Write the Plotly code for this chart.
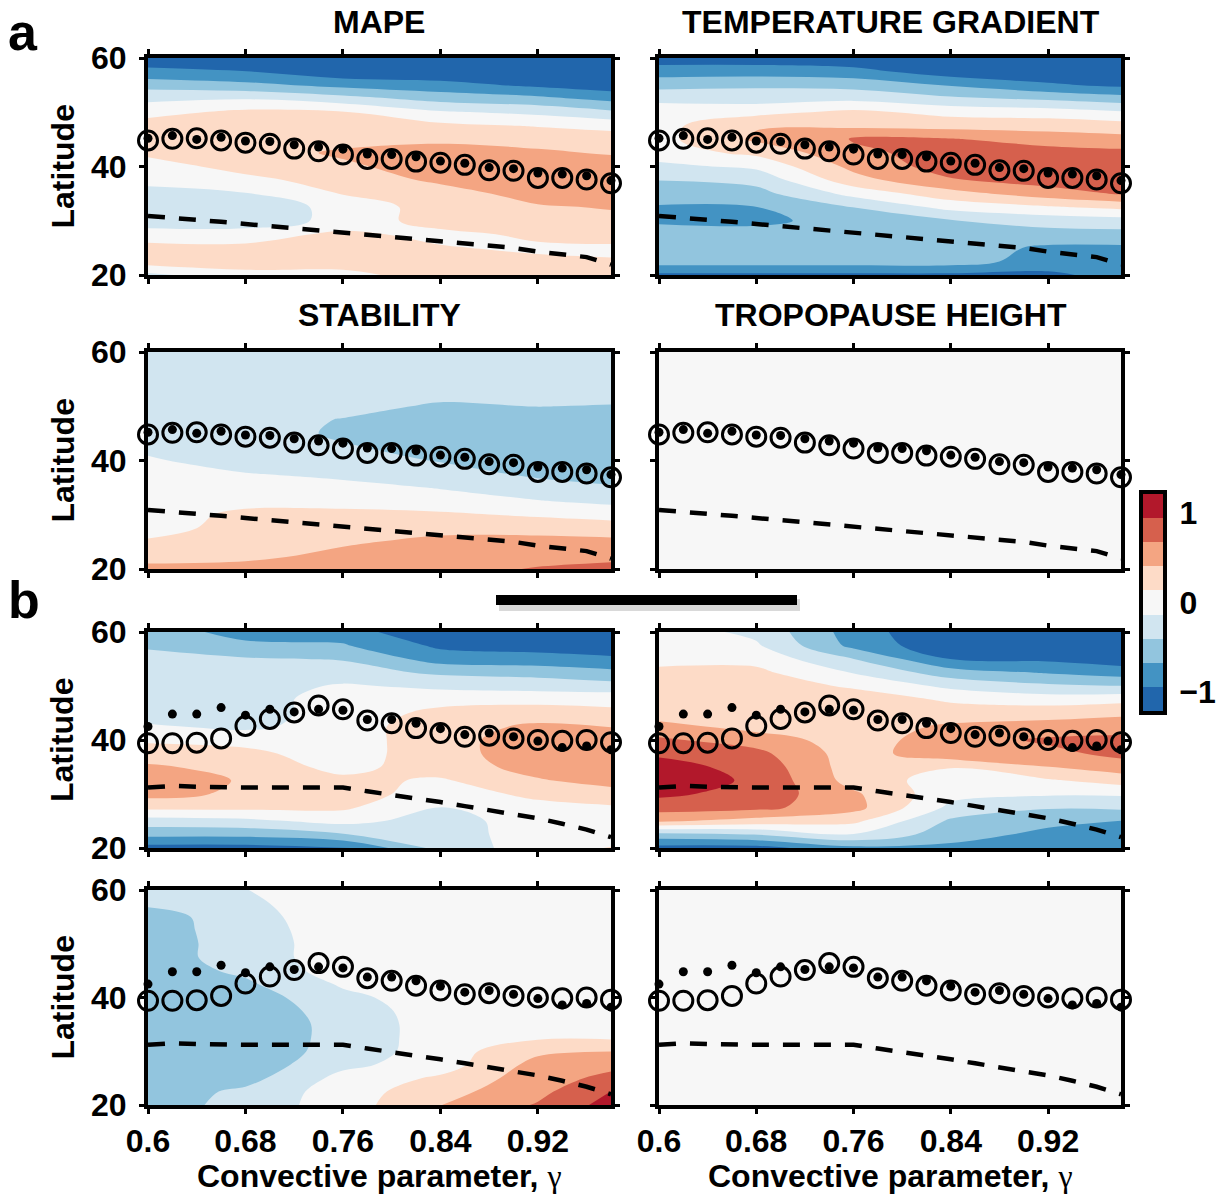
import plotly.graph_objects as go

# ---------------- data ----------------
gamma = [0.60, 0.62, 0.64, 0.66, 0.68, 0.70, 0.72, 0.74, 0.76, 0.78,
         0.80, 0.82, 0.84, 0.86, 0.88, 0.90, 0.92, 0.94, 0.96, 0.98]

# part a: jet latitude (open circles), dots, and dashed Hadley edge
a_circle_lat = [44.8, 45.1, 45.2, 44.8, 44.4, 44.2, 43.3, 42.8, 42.2, 41.4,
                41.4, 40.9, 40.7, 40.3, 39.3, 39.2, 37.9, 37.9, 37.6, 36.9]
a_dot_lat = [45.2, 45.7, 45.0, 45.4, 44.7, 44.6, 44.0, 43.6, 43.2, 42.3,
             42.2, 41.8, 41.0, 40.6, 39.8, 39.6, 38.8, 38.6, 38.3, 37.4]
a_dash_lat = [30.9, 30.6, 30.1, 29.8, 29.4, 29.0, 28.4, 28.1, 27.8, 27.3,
              27.0, 26.5, 26.1, 25.7, 25.4, 25.0, 24.3, 23.8, 23.3, 21.9]

# part b
b_circle_lat = [39.4, 39.4, 39.5, 40.3, 42.6, 43.9, 45.1, 46.4, 45.7, 43.6,
                43.1, 42.2, 41.3, 40.6, 40.8, 40.3, 40.0, 39.85, 40.0, 39.6]
b_dot_lat = [42.5, 44.8, 44.8, 46.0, 44.6, 45.7, 45.2, 45.7, 45.5, 43.8,
             43.8, 43.1, 42.1, 41.0, 41.3, 40.6, 39.8, 38.6, 38.9, 38.2]
b_dash_lat = [31.2, 31.5, 31.35, 31.2, 31.2, 31.2, 31.2, 31.3, 31.2, 30.5,
              29.9, 29.3, 28.5, 27.75, 27.0, 26.3, 25.5, 24.5, 23.4, 22.0]

# contour fields: latitude profiles at a few gamma values
grid_gamma = [0.60, 0.68, 0.76, 0.84, 0.92, 0.98]
grid_lat = [20, 22.5, 25, 27.5, 30, 32.5, 35, 37.5, 40, 42.5,
            45, 47.5, 50, 52.5, 55, 57.5, 60]

mape_a = [
    [-0.2, 0.27, 0.22, 0, -0.3, -0.3, -0.3, 0, 0, 0.2, 0.27, 0.25, 0.05, -0.2, -0.5, -0.88, -1.1],
    [0.05, 0.27, 0.2, 0, -0.3, -0.3, -0.15, 0.05, 0.25, 0.27, 0.3, 0.27, 0.2, -0.15, -0.6, -0.94, -1.1],
    [0.05, 0.27, 0.3, 0.2, -0.05, -0.05, 0.15, 0.27, 0.35, 0.45, 0.3, 0.27, 0.16, -0.3, -0.75, -1.15, -1.2],
    [0.27, 0.27, 0.16, 0.05, 0.27, 0.27, 0.3, 0.45, 0.55, 0.52, 0.35, 0.2, -0.1, -0.5, -0.85, -1.15, -1.2],
    [0.27, 0.2, 0.08, 0.2, 0.3, 0.38, 0.5, 0.55, 0.55, 0.45, 0.3, 0.12, -0.2, -0.6, -1.0, -1.2, -1.2],
    [0.27, 0.17, 0.05, 0.35, 0.35, 0.42, 0.55, 0.55, 0.55, 0.38, 0.27, 0.05, -0.35, -0.75, -1.1, -1.2, -1.2],
]
tgrad_a = [
    [-1.0, -0.55, -0.5, -0.55, -0.72, -0.7, -0.55, -0.4, -0.2, 0, 0.05, 0.05, 0, -0.2, -0.5, -0.8, -1.1],
    [-1.0, -0.55, -0.55, -0.6, -0.72, -0.68, -0.5, -0.32, -0.08, 0.2, 0.45, 0.38, 0.05, -0.25, -0.45, -0.8, -1.1],
    [-1.0, -0.55, -0.55, -0.6, -0.6, -0.4, -0.05, 0.3, 0.48, 0.6, 0.7, 0.35, 0.2, -0.2, -0.5, -0.85, -1.15],
    [-1.0, -0.55, -0.55, -0.55, -0.42, -0.05, 0.3, 0.65, 0.8, 0.8, 0.7, 0.3, 0.05, -0.35, -0.7, -1.1, -1.2],
    [-1.0, -0.8, -0.72, -0.5, -0.3, 0.1, 0.55, 0.8, 0.85, 0.8, 0.55, 0.3, 0, -0.45, -0.9, -1.15, -1.2],
    [-0.85, -0.8, -0.72, -0.5, -0.25, 0.2, 0.7, 0.85, 0.85, 0.75, 0.5, 0.25, -0.1, -0.55, -1.0, -1.2, -1.2],
]
stab_a = [
    [0.5, 0.27, 0.18, 0, 0, 0, 0, 0, -0.1, -0.2, -0.27, -0.27, -0.27, -0.27, -0.27, -0.27, -0.27],
    [0.55, 0.3, 0.27, 0.27, 0.2, 0.05, 0, -0.12, -0.27, -0.27, -0.27, -0.27, -0.27, -0.27, -0.27, -0.27, -0.27],
    [0.55, 0.5, 0.35, 0.27, 0.2, 0.05, -0.05, -0.2, -0.3, -0.38, -0.45, -0.42, -0.3, -0.27, -0.27, -0.27, -0.27],
    [0.55, 0.55, 0.5, 0.3, 0.18, -0.02, -0.15, -0.3, -0.42, -0.5, -0.5, -0.5, -0.45, -0.3, -0.27, -0.27, -0.27],
    [0.7, 0.55, 0.5, 0.3, 0.1, -0.12, -0.3, -0.45, -0.5, -0.5, -0.5, -0.5, -0.4, -0.3, -0.27, -0.27, -0.27],
    [0.8, 0.55, 0.48, 0.25, 0.05, -0.2, -0.38, -0.5, -0.5, -0.5, -0.5, -0.5, -0.42, -0.3, -0.27, -0.27, -0.27],
]
tropo_profile = [0, 0, 0, 0, 0, 0, 0, 0, 0, 0, 0, 0, 0, 0, 0, 0, 0]
tropo_a = [tropo_profile] * 6

mape_b = [
    [-1.05, -0.6, -0.25, 0.2, 0.5, 0.55, 0.45, 0.25, 0.1, -0.1, -0.27, -0.27, -0.27, -0.27, -0.3, -0.45, -0.5],
    [-1.05, -0.6, -0.2, 0.2, 0.35, 0.38, 0.3, 0.2, 0.05, -0.2, -0.27, -0.27, -0.27, -0.3, -0.38, -0.6, -0.8],
    [-1.0, -0.42, -0.05, 0.18, 0.27, 0.2, 0.05, 0, 0, 0, 0, 0, -0.1, -0.3, -0.42, -0.65, -0.8],
    [-0.3, -0.27, -0.25, -0.15, 0, 0.1, 0.27, 0.3, 0.3, 0.3, 0.2, 0.05, -0.2, -0.45, -0.8, -1.0, -1.2],
    [0, 0, 0, 0.05, 0.2, 0.38, 0.5, 0.55, 0.55, 0.45, 0.27, 0.05, -0.25, -0.5, -0.85, -1.05, -1.2],
    [0.15, 0, 0, 0.1, 0.3, 0.5, 0.55, 0.55, 0.5, 0.4, 0.2, 0.05, -0.3, -0.6, -0.9, -1.1, -1.2],
]
tgrad_b = [
    [-1.05, -0.5, 0.45, 0.8, 1.0, 1.1, 1.05, 0.9, 0.72, 0.5, 0.25, 0.27, 0.2, 0.2, 0.05, 0, 0],
    [-1.05, -0.4, 0.3, 0.75, 0.85, 0.9, 0.85, 0.75, 0.55, 0.3, 0.27, 0.27, 0.27, 0.2, 0.05, -0.1, -0.2],
    [-0.75, -0.15, 0.2, 0.5, 0.45, 0.3, 0.27, 0.27, 0.27, 0.27, 0.27, 0.27, 0.1, -0.15, -0.4, -0.75, -0.8],
    [-0.75, -0.55, -0.45, -0.2, -0.05, 0, 0.15, 0.6, 0.55, 0.45, 0.25, 0.1, -0.2, -0.55, -0.95, -1.15, -1.2],
    [-0.8, -0.75, -0.6, -0.38, -0.1, 0.1, 0.4, 0.6, 0.72, 0.5, 0.3, 0, -0.35, -0.7, -1.0, -1.2, -1.2],
    [-0.8, -0.8, -0.68, -0.35, -0.1, 0.25, 0.55, 0.75, 0.75, 0.55, 0.35, 0.05, -0.4, -0.8, -1.1, -1.2, -1.2],
]
stab_b = [
    [-0.55, -0.55, -0.55, -0.55, -0.55, -0.55, -0.55, -0.55, -0.55, -0.55, -0.55, -0.55, -0.55, -0.55, -0.55, -0.35, -0.25],
    [-0.3, -0.35, -0.5, -0.58, -0.58, -0.58, -0.58, -0.58, -0.55, -0.45, -0.35, -0.27, -0.27, -0.25, -0.22, -0.18, -0.14],
    [0, 0, -0.05, -0.2, -0.3, -0.32, -0.32, -0.28, -0.2, -0.1, 0, 0, 0, 0, 0, 0, 0],
    [0.4, 0.3, 0.18, 0, 0, 0, 0, 0, 0, 0, 0, 0, 0, 0, 0, 0, 0],
    [0.7, 0.6, 0.55, 0.5, 0.35, 0.1, 0, 0, 0, 0, 0, 0, 0, 0, 0, 0, 0],
    [1.05, 0.95, 0.75, 0.6, 0.4, 0.1, 0, 0, 0, 0, 0, 0, 0, 0, 0, 0, 0],
]
tropo_b = [tropo_profile] * 6

panel_titles = ["MAPE", "TEMPERATURE GRADIENT", "STABILITY", "TROPOPAUSE HEIGHT"]
x_ticks = [0.6, 0.68, 0.76, 0.84, 0.92]
x_ticklabels = ["0.6", "0.68", "0.76", "0.84", "0.92"]
y_ticks = [20, 40, 60]
cbar_ticks = [-1, 0, 1]
cbar_ticklabels = ["\u22121", "0", "1"]
band_colors = ["#2166ac", "#4393c3", "#92c5de", "#d1e5f0", "#f7f7f7",
               "#fddbc7", "#f4a582", "#d6604d", "#b2182b"]
band_width = 0.27

# ---------------- layout helpers ----------------
W, H = 1218, 1196
FONT = "Liberation Sans, Arial, Helvetica, sans-serif"


def px_x(p):
    return p / W


def px_y(p):
    return 1 - p / H


col_px = [(148, 611), (659, 1121)]
row_px = [(58, 275), (352, 569), (632, 848), (890, 1105)]

# stepped colourscale for 9 bands (values evaluated at k/8 by contour fill)
nb = len(band_colors)
cscale = []
for k, c in enumerate(band_colors):
    lo = 0.0 if k == 0 else (k - 0.5) / (nb - 1)
    hi = 1.0 if k == nb - 1 else (k + 0.5) / (nb - 1)
    cscale += [[lo, c], [hi, c]]

fields = [mape_a, tgrad_a, stab_a, tropo_a, mape_b, tgrad_b, stab_b, tropo_b]

fig = go.Figure()
layout = dict(width=W, height=H,
              margin=dict(l=0, r=0, t=0, b=0, pad=0, autoexpand=False),
              paper_bgcolor="white", plot_bgcolor="#f7f7f7",
              showlegend=False, font=dict(family=FONT, color="black"))

half = (len(band_colors) // 2) * band_width + band_width / 2  # 1.215
lev_start = -half + band_width
lev_end = half - band_width

TICKFONT = dict(family=FONT, size=32, color="black", weight="bold")

for i, field in enumerate(fields):
    r, c = divmod(i, 2)
    ax = i + 1
    xs = "x" if ax == 1 else f"x{ax}"
    ys = "y" if ax == 1 else f"y{ax}"
    z = [list(row) for row in zip(*field)]
    fig.add_trace(go.Contour(
        x=grid_gamma, y=grid_lat, z=z, xaxis=xs, yaxis=ys,
        autocontour=False,
        contours=dict(start=lev_start, end=lev_end, size=band_width,
                      coloring="fill", showlines=False),
        line=dict(width=0), colorscale=cscale, showscale=False,
        hoverinfo="skip"))
    part_b = r >= 2
    dash_lat = b_dash_lat if part_b else a_dash_lat
    circ_lat = b_circle_lat if part_b else a_circle_lat
    dot_lat = b_dot_lat if part_b else a_dot_lat
    fig.add_trace(go.Scatter(x=gamma, y=dash_lat, mode="lines", xaxis=xs, yaxis=ys,
                             line=dict(color="black", width=4.5, dash="17px,14px"),
                             hoverinfo="skip"))
    fig.add_trace(go.Scatter(x=gamma, y=circ_lat, mode="markers", xaxis=xs, yaxis=ys,
                             cliponaxis=False,
                             marker=dict(symbol="circle-open", size=19, color="black",
                                         line=dict(width=3, color="black")),
                             hoverinfo="skip"))
    fig.add_trace(go.Scatter(x=gamma, y=dot_lat, mode="markers", xaxis=xs, yaxis=ys,
                             cliponaxis=False,
                             marker=dict(symbol="circle", size=9, color="black"),
                             hoverinfo="skip"))

    x0, x1 = col_px[c]
    y0, y1 = row_px[r]
    xkey = "xaxis" if ax == 1 else f"xaxis{ax}"
    ykey = "yaxis" if ax == 1 else f"yaxis{ax}"
    common = dict(showline=True, linewidth=4, linecolor="black", mirror="ticks",
                  ticks="outside", ticklen=5, tickwidth=3, tickcolor="black",
                  showgrid=False, zeroline=False, automargin=False,
                  tickfont=TICKFONT)
    layout[xkey] = dict(domain=[px_x(x0), px_x(x1)], range=[0.6, 0.98], anchor=ys,
                        tickmode="array", tickvals=x_ticks, ticktext=x_ticklabels,
                        showticklabels=(r == 3), ticklabelstandoff=0, **common)
    layout[ykey] = dict(domain=[px_y(y1), px_y(y0)], range=[20, 60], anchor=xs,
                        tickmode="array", tickvals=y_ticks,
                        showticklabels=(c == 0), ticklabelstandoff=6, **common)

# colour bar as its own small axis
cb_centres = [(k - nb // 2) * band_width for k in range(nb)]
fig.add_trace(go.Heatmap(x=[0], y=cb_centres, z=[[v] for v in cb_centres],
                         xaxis="x9", yaxis="y9", colorscale=cscale,
                         zmin=cb_centres[0], zmax=cb_centres[-1],
                         showscale=False, hoverinfo="skip"))
layout["xaxis9"] = dict(domain=[px_x(1143), px_x(1163)], range=[-0.5, 0.5], anchor="y9",
                        showticklabels=False, ticks="", showgrid=False, zeroline=False,
                        automargin=False,
                        showline=True, linewidth=4, linecolor="black", mirror=True)
layout["yaxis9"] = dict(domain=[px_y(711), px_y(494)], range=[-half, half], anchor="x9",
                        side="right", tickmode="array", tickvals=cbar_ticks,
                        ticktext=cbar_ticklabels, ticks="", showgrid=False, zeroline=False,
                        automargin=False,
                        showline=True, linewidth=4, linecolor="black", mirror=True,
                        ticklabelstandoff=6, tickfont=TICKFONT)

ann = []
title_font = dict(family=FONT, size=32, color="black", weight="bold")
title_pos = [(379, 22), (891, 22), (379, 315), (891, 315)]
for t, (tx, ty) in zip(panel_titles, title_pos):
    ann.append(dict(text=t, x=px_x(tx), y=px_y(ty), xref="paper", yref="paper",
                    xanchor="center", yanchor="middle", showarrow=False, font=title_font))
for (y0, y1) in row_px:
    ann.append(dict(text="Latitude", x=px_x(62), y=px_y((y0 + y1) / 2), xref="paper",
                    yref="paper", xanchor="center", yanchor="middle", textangle=-90,
                    showarrow=False, font=title_font))
for (x0, x1) in col_px:
    ann.append(dict(text="Convective parameter, <span style='font-family:Liberation Serif;"
                         "font-weight:normal'>\u03b3</span>",
                    x=px_x((x0 + x1) / 2), y=px_y(1176), xref="paper", yref="paper",
                    xanchor="center", yanchor="middle", showarrow=False, font=title_font))
letter_font = dict(family=FONT, size=52, color="black", weight="bold")
ann.append(dict(text="a", x=px_x(6), y=px_y(32), xref="paper", yref="paper",
                xanchor="left", yanchor="middle", showarrow=False, font=letter_font))
ann.append(dict(text="b", x=px_x(6), y=px_y(600), xref="paper", yref="paper",
                xanchor="left", yanchor="middle", showarrow=False, font=letter_font))
layout["annotations"] = ann

layout["shapes"] = [
    dict(type="rect", xref="paper", yref="paper", x0=px_x(499), x1=px_x(800),
         y0=px_y(611), y1=px_y(599), fillcolor="rgba(0,0,0,0.15)", line=dict(width=0)),
    dict(type="rect", xref="paper", yref="paper", x0=px_x(496), x1=px_x(797),
         y0=px_y(605), y1=px_y(595), fillcolor="black", line=dict(width=0)),
]

fig.update_layout(**layout)
fig.write_html("out.html")
